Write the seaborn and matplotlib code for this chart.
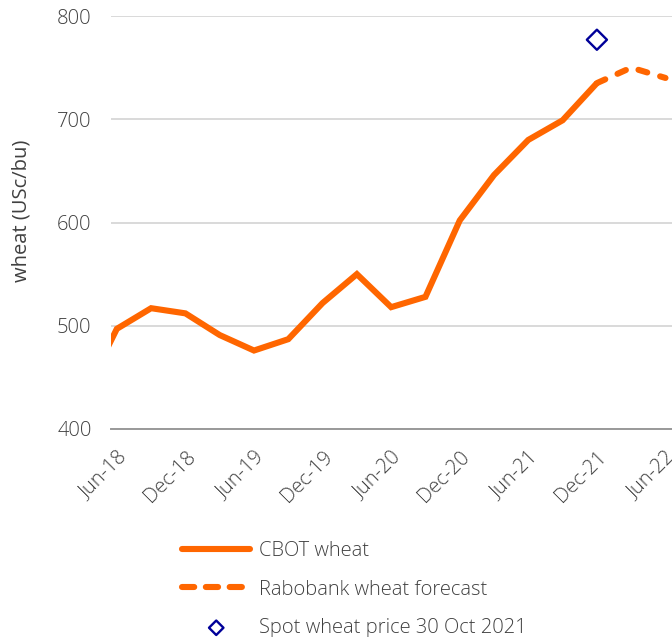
import matplotlib
matplotlib.use("Agg")
import matplotlib.pyplot as plt
import seaborn as sns
import pandas as pd
from matplotlib import transforms

# ---- data ----
quarters = ["Mar-18", "Jun-18", "Sep-18", "Dec-18", "Mar-19", "Jun-19", "Sep-19", "Dec-19",
            "Mar-20", "Jun-20", "Sep-20", "Dec-20", "Mar-21", "Jun-21", "Sep-21", "Dec-21",
            "Mar-22", "Jun-22"]
cbot_quarters = quarters[:16]
cbot_values = [430, 497, 517, 512, 491, 476, 487, 522, 550, 518, 528, 602, 646, 680, 699, 735]
forecast_quarters = ["Dec-21", "Mar-22", "Jun-22"]
forecast_values = [735, 750, 740]
spot_quarter = ["Dec-21"]
spot_value = [777]
tick_labels = ["Jun-18", "Dec-18", "Jun-19", "Dec-19", "Jun-20", "Dec-20", "Jun-21", "Dec-21", "Jun-22"]
y_ticks = [400, 500, 600, 700, 800]

ORANGE = "#FF6600"
NAVY = "#000099"
TXT = "#404040"
FS = 14.5

sns.set_theme(style="white")
plt.rcParams["font.family"] = ["Open Sans", "DejaVu Sans"]
plt.rcParams["font.weight"] = "light"

def pos(q):
    return quarters.index(q) - 1

cbot = pd.DataFrame({"x": [pos(q) for q in cbot_quarters], "y": cbot_values})
fc = pd.DataFrame({"x": [pos(q) for q in forecast_quarters], "y": forecast_values})
spot = pd.DataFrame({"x": [pos(q) for q in spot_quarter], "y": spot_value})

fig = plt.figure(figsize=(6.72, 6.37), dpi=100)
ax = fig.add_axes([111 / 672, 1 - 429 / 637, (672 - 111) / 672, (429 - 16) / 637])

sns.lineplot(data=cbot, x="x", y="y", ax=ax, color=ORANGE, linewidth=4.4,
             label="CBOT wheat", solid_capstyle="butt", solid_joinstyle="miter")
sns.lineplot(data=fc, x="x", y="y", ax=ax, color=ORANGE, linewidth=4.4,
             linestyle=(0, (1.5, 2.2)), dash_capstyle="round",
             label="Rabobank wheat forecast")
sns.scatterplot(data=spot, x="x", y="y", ax=ax, marker="D", s=105,
                facecolors="none", edgecolor=NAVY, linewidth=1.7,
                label="Spot wheat price 30 Oct 2021", zorder=5)

ax.set_xlim(-0.17, 16.19)
ax.set_ylim(400, 800)
ax.set_yticks(y_ticks)
ax.set_yticklabels([str(v) for v in y_ticks])
ax.set_xticks([pos(q) for q in tick_labels])
ax.set_xticklabels(tick_labels, rotation=45, ha="right", va="top", rotation_mode="anchor")
offset = transforms.ScaledTranslation(1.5 / 72, 0, fig.dpi_scale_trans)
for lab in ax.get_xticklabels():
    lab.set_transform(lab.get_transform() + offset)

ax.tick_params(axis="both", length=0, labelsize=FS, labelcolor=TXT)
ax.tick_params(axis="y", pad=14)
ax.tick_params(axis="x", pad=13)
ax.set_xlabel("")
ax.set_ylabel("wheat (USc/bu)", fontsize=FS, color=TXT)
ax.yaxis.set_label_coords(-0.141, 0.528)

ax.grid(axis="y", color="#d9d9d9", linewidth=1.4)
ax.grid(axis="x", visible=False)
for s in ["top", "right", "left"]:
    ax.spines[s].set_visible(False)
ax.spines["bottom"].set_color("#999999")
ax.spines["bottom"].set_linewidth(1.4)

handles, labels = ax.get_legend_handles_labels()
ax.get_legend().remove()
leg = fig.legend(handles, labels, loc="upper left",
                 bbox_to_anchor=(182 / 672, 1 - 541 / 637), frameon=False,
                 fontsize=FS, handlelength=3.4, handletextpad=0.4,
                 labelspacing=0.92, borderpad=0, borderaxespad=0, markerscale=0.72)
for t in leg.get_texts():
    t.set_color(TXT)
leg_lines = leg.get_lines()
leg_lines[0].set_solid_capstyle("round")
leg_lines[1].set_linestyle((0, (2.0, 1.9)))
leg_lines[1].set_dash_capstyle("round")

fig.savefig("out.png", dpi=100)
